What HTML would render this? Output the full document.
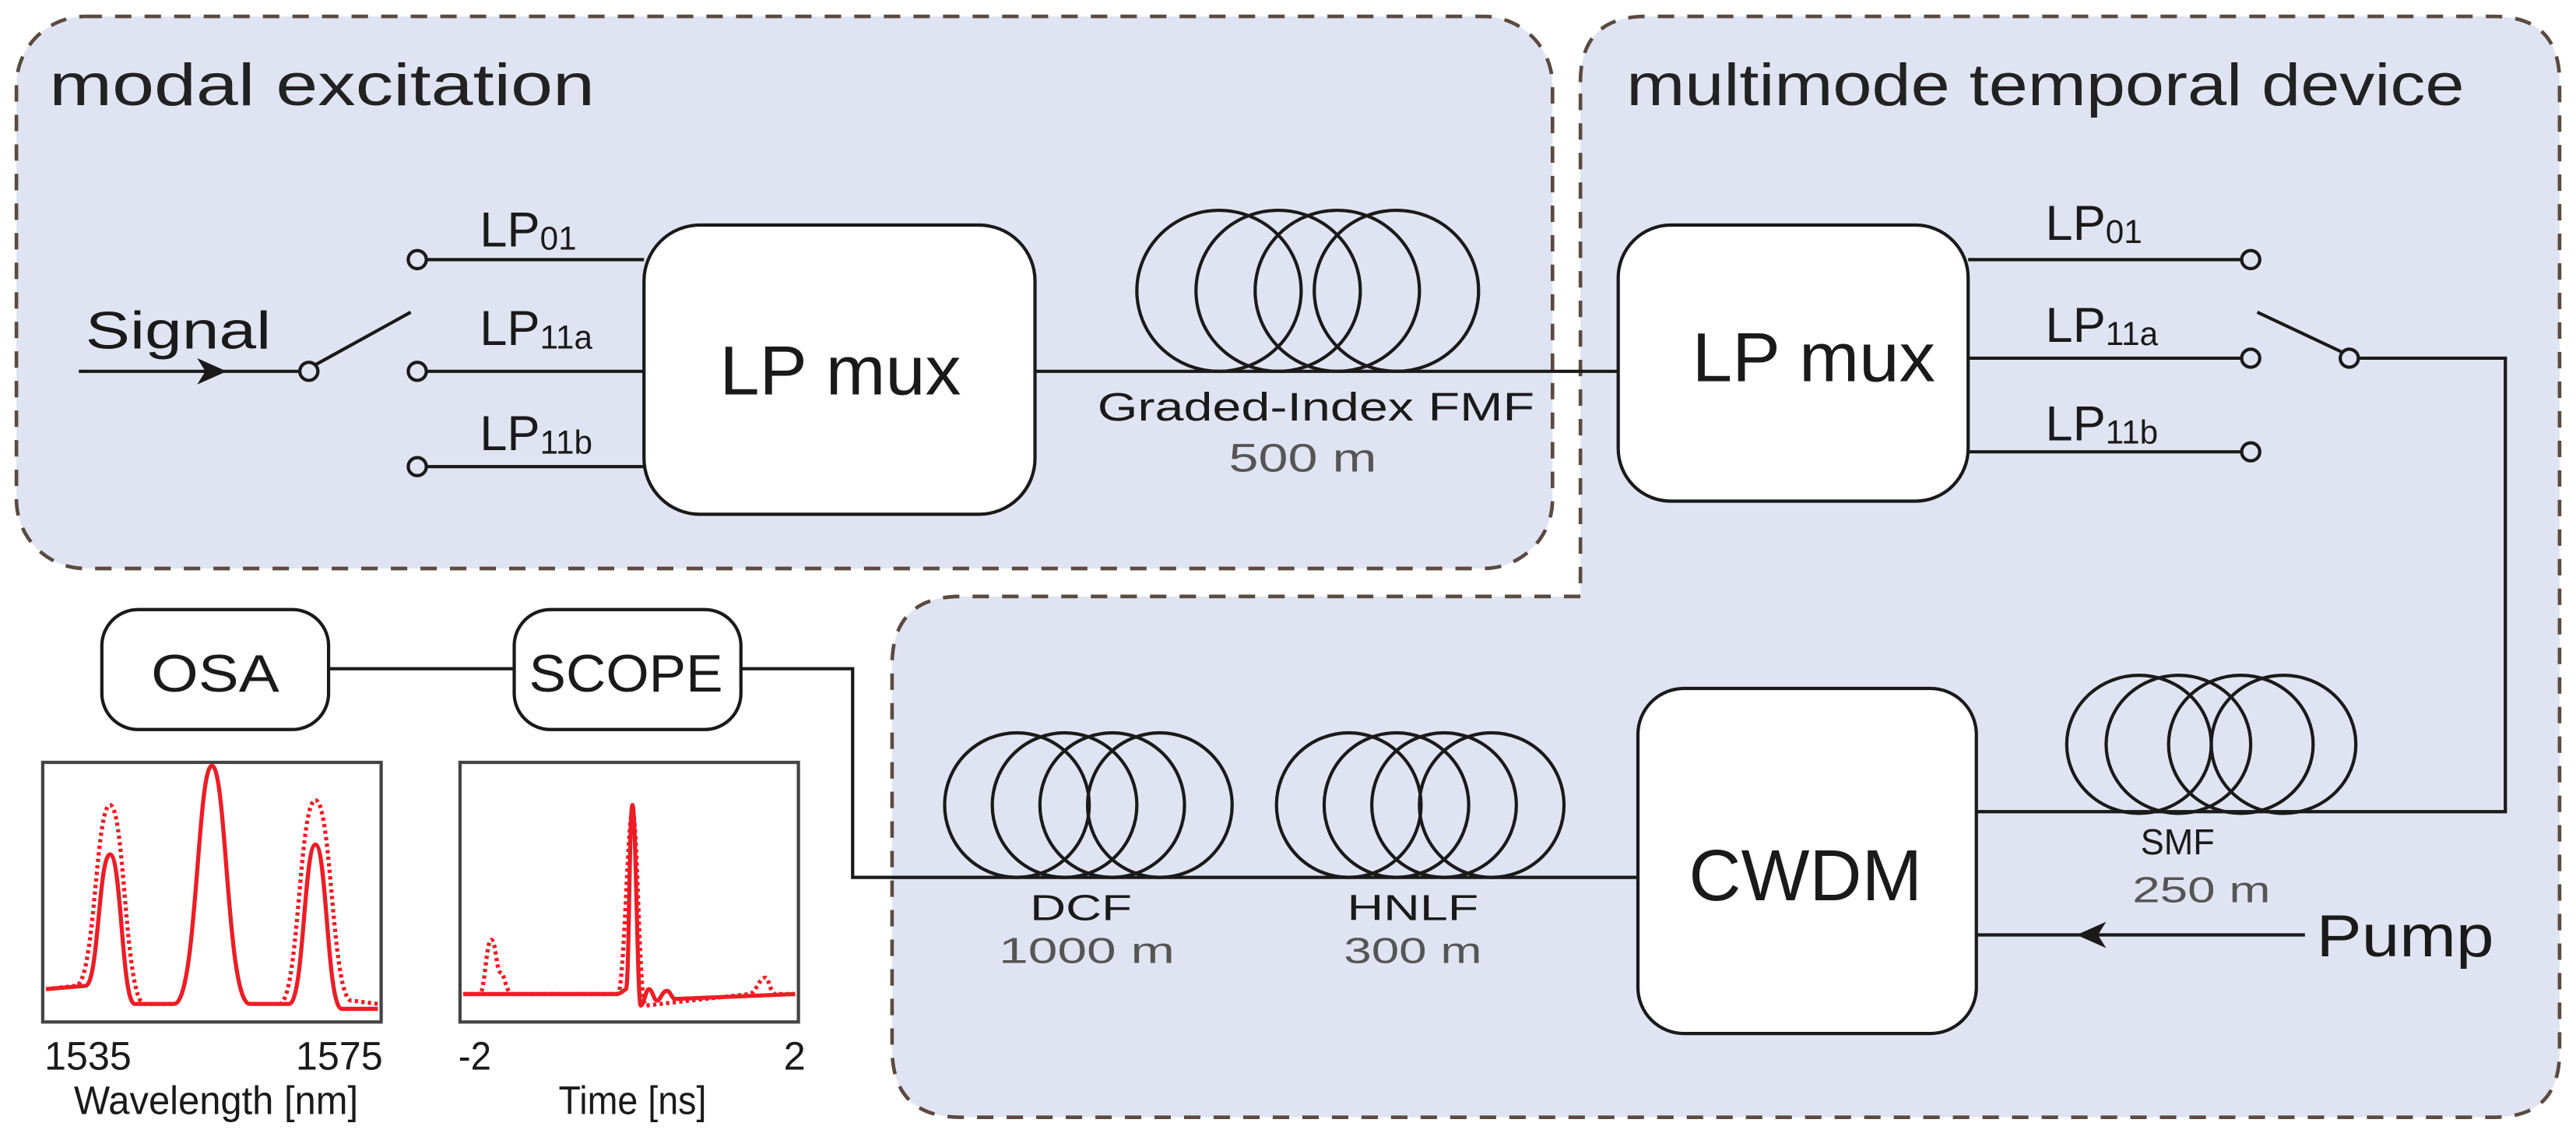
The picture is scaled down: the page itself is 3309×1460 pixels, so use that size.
<!DOCTYPE html>
<html><head><meta charset="utf-8"><style>html,body{margin:0;padding:0;background:#fff}svg{display:block}</style></head>
<body>
<svg width="3309" height="1460" viewBox="0 0 1568 692" preserveAspectRatio="none" xmlns="http://www.w3.org/2000/svg" font-family="Liberation Sans, sans-serif">
<rect x="10" y="10" width="935" height="336" rx="42" fill="#e0e4f2" stroke="#5a4a40" stroke-width="2.2" stroke-dasharray="10 8"/>
<path d="M962,50 Q962,10 1002,10 L1518,10 Q1558,10 1558,50 L1558,640 Q1558,680 1518,680 L585,680 Q543,680 543,638 L543,405 Q543,363 585,363 L962,363 Z" fill="#e0e4f2" stroke="#5a4a40" stroke-width="2.2" stroke-dasharray="10 8"/>
<text x="30" y="64" font-size="36" fill="#222" textLength="332" lengthAdjust="spacingAndGlyphs">modal excitation</text>
<text x="990" y="64" font-size="36" fill="#222" textLength="510" lengthAdjust="spacingAndGlyphs">multimode temporal device</text>

<g stroke="#1a1a1a" stroke-width="2" fill="none">
<line x1="48" y1="226" x2="183" y2="226"/>
<line x1="192" y1="222" x2="250" y2="190"/>
<circle cx="188" cy="226" r="5.5" fill="#e0e4f2"/>
<circle cx="254" cy="158" r="5.5" fill="#e0e4f2"/>
<circle cx="254" cy="226" r="5.5" fill="#e0e4f2"/>
<circle cx="254" cy="284" r="5.5" fill="#e0e4f2"/>
<line x1="260" y1="158" x2="392" y2="158"/>
<line x1="260" y1="226" x2="392" y2="226"/>
<line x1="260" y1="284" x2="392" y2="284"/>
<rect x="392" y="137" width="238" height="176" rx="34" fill="#fff"/>
<line x1="630" y1="226" x2="985" y2="226"/>
<ellipse cx="742" cy="177" rx="50" ry="49"/>
<ellipse cx="778" cy="177" rx="50" ry="49"/>
<ellipse cx="814" cy="177" rx="50" ry="49"/>
<ellipse cx="850" cy="177" rx="50" ry="49"/>
<rect x="985" y="137" width="213" height="168" rx="32" fill="#fff"/>
<line x1="1198" y1="158" x2="1364" y2="158"/>
<line x1="1198" y1="218" x2="1364" y2="218"/>
<line x1="1198" y1="275" x2="1364" y2="275"/>
<circle cx="1370" cy="158" r="5.5" fill="#e0e4f2"/>
<circle cx="1370" cy="218" r="5.5" fill="#e0e4f2"/>
<circle cx="1370" cy="275" r="5.5" fill="#e0e4f2"/>
<line x1="1425" y1="214" x2="1374" y2="190"/>
<circle cx="1430" cy="218" r="5.5" fill="#e0e4f2"/>
<polyline points="1436,218 1525,218 1525,494 1203,494"/>
<ellipse cx="1302" cy="453" rx="44" ry="42"/>
<ellipse cx="1326" cy="453" rx="44" ry="42"/>
<ellipse cx="1364" cy="453" rx="44" ry="42"/>
<ellipse cx="1390" cy="453" rx="44" ry="42"/>
<rect x="997" y="419" width="206" height="210" rx="28" fill="#fff"/>
<line x1="1203" y1="569" x2="1403" y2="569"/>
<polyline points="200,407 313,407"/>
<polyline points="451,407 519,407 519,534 997,534"/>
<ellipse cx="619" cy="490" rx="44" ry="44"/>
<ellipse cx="648" cy="490" rx="44" ry="44"/>
<ellipse cx="677" cy="490" rx="44" ry="44"/>
<ellipse cx="706" cy="490" rx="44" ry="44"/>
<ellipse cx="821" cy="490" rx="44" ry="44"/>
<ellipse cx="850" cy="490" rx="44" ry="44"/>
<ellipse cx="879" cy="490" rx="44" ry="44"/>
<ellipse cx="908" cy="490" rx="44" ry="44"/>
<rect x="62" y="371" width="138" height="73" rx="22" fill="#fff"/>
<rect x="313" y="371" width="138" height="73" rx="22" fill="#fff"/>
</g>
<path d="M120,218 L138,226 L120,234 L125,226 Z" fill="#1a1a1a"/>
<path d="M1282,561 L1264,569 L1282,577 L1277,569 Z" fill="#1a1a1a"/>

<g fill="#1a1a1a">
<text x="52" y="212" font-size="32" textLength="113" lengthAdjust="spacingAndGlyphs">Signal</text>
<text x="292" y="150" font-size="30">LP<tspan font-size="20" dy="2">01</tspan></text>
<text x="292" y="210" font-size="30">LP<tspan font-size="20" dy="2">11a</tspan></text>
<text x="292" y="274" font-size="30">LP<tspan font-size="20" dy="2">11b</tspan></text>
<text x="1245" y="146" font-size="30">LP<tspan font-size="20" dy="2">01</tspan></text>
<text x="1245" y="208" font-size="30">LP<tspan font-size="20" dy="2">11a</tspan></text>
<text x="1245" y="268" font-size="30">LP<tspan font-size="20" dy="2">11b</tspan></text>
<text x="438" y="240" font-size="42" textLength="147" lengthAdjust="spacingAndGlyphs">LP mux</text>
<text x="1030" y="232" font-size="42" textLength="148" lengthAdjust="spacingAndGlyphs">LP mux</text>
<text x="1028" y="548" font-size="44" textLength="142" lengthAdjust="spacingAndGlyphs">CWDM</text>
<text x="1410" y="582" font-size="36" textLength="108" lengthAdjust="spacingAndGlyphs">Pump</text>
<text x="92" y="421" font-size="32" textLength="78" lengthAdjust="spacingAndGlyphs">OSA</text>
<text x="322" y="421" font-size="32" textLength="118" lengthAdjust="spacingAndGlyphs">SCOPE</text>
<text x="668" y="256" font-size="24" textLength="266" lengthAdjust="spacingAndGlyphs">Graded-Index FMF</text>
<text x="1303" y="520" font-size="22" textLength="45" lengthAdjust="spacingAndGlyphs">SMF</text>
<text x="627" y="560" font-size="22" textLength="62" lengthAdjust="spacingAndGlyphs">DCF</text>
<text x="820" y="560" font-size="22" textLength="80" lengthAdjust="spacingAndGlyphs">HNLF</text>
<text x="27" y="651" font-size="24" textLength="53" lengthAdjust="spacingAndGlyphs">1535</text>
<text x="180" y="651" font-size="24" textLength="53" lengthAdjust="spacingAndGlyphs">1575</text>
<text x="45" y="678" font-size="24" textLength="173" lengthAdjust="spacingAndGlyphs">Wavelength [nm]</text>
<text x="279" y="651" font-size="24" textLength="20" lengthAdjust="spacingAndGlyphs">-2</text>
<text x="477" y="651" font-size="24">2</text>
<text x="340" y="678" font-size="24" textLength="90" lengthAdjust="spacingAndGlyphs">Time [ns]</text>
</g>
<g fill="#555">
<text x="748" y="287" font-size="24" textLength="90" lengthAdjust="spacingAndGlyphs">500 m</text>
<text x="1298" y="549" font-size="22" textLength="84" lengthAdjust="spacingAndGlyphs">250 m</text>
<text x="608" y="586" font-size="22" textLength="107" lengthAdjust="spacingAndGlyphs">1000 m</text>
<text x="818" y="586" font-size="22" textLength="84" lengthAdjust="spacingAndGlyphs">300 m</text>
</g>

<g transform="translate(26,464)">
<rect x="0" y="0" width="206" height="158" fill="#fff" stroke="#444" stroke-width="2"/>
<path d="M2,138 L26,136 C34,136 34,56 41,56 C48,56 48,147 56,147 L80,147 C94,147 94,2 103,2 C112,2 112,147 126,147 L150,147 C159,147 159,50 166,50 C173,50 173,150 182,150 L204,150" fill="none" stroke="#ee1c25" stroke-width="2.5"/>
<path d="M2,138 L20,136 C32,136 32,26 41,26 C50,26 50,147 62,147 L80,147 M144,147 C156,147 156,23 166,23 C176,23 176,145 188,145 L204,147" fill="none" stroke="#ee1c25" stroke-width="2.5" stroke-dasharray="2 2"/>
</g>
<g transform="translate(280,464)">
<rect x="0" y="0" width="206" height="158" fill="#fff" stroke="#444" stroke-width="2"/>
<path d="M2,141 L94,141 C99,141 100,138 101,138 C103,138 103,26 105,26 C107,26 108,148 110,148 C112,148 113,138 115,138 C117,138 118,145 120,145 C122,145 123,139 126,139 C128,139 129,144 131,144 L204,141" fill="none" stroke="#ee1c25" stroke-width="2.5"/>
<path d="M2,141 L12,141 C15,141 16,108 19,108 C22,108 22,128 25,128 C27,128 28,141 32,141 L96,141 C100,141 102,30 105,30 C108,30 109,148 113,148 L176,141 C180,141 182,131 186,131 C188,131 189,141 192,141 L204,141" fill="none" stroke="#ee1c25" stroke-width="2.5" stroke-dasharray="2 2"/>
</g>
</svg>
</body></html>
